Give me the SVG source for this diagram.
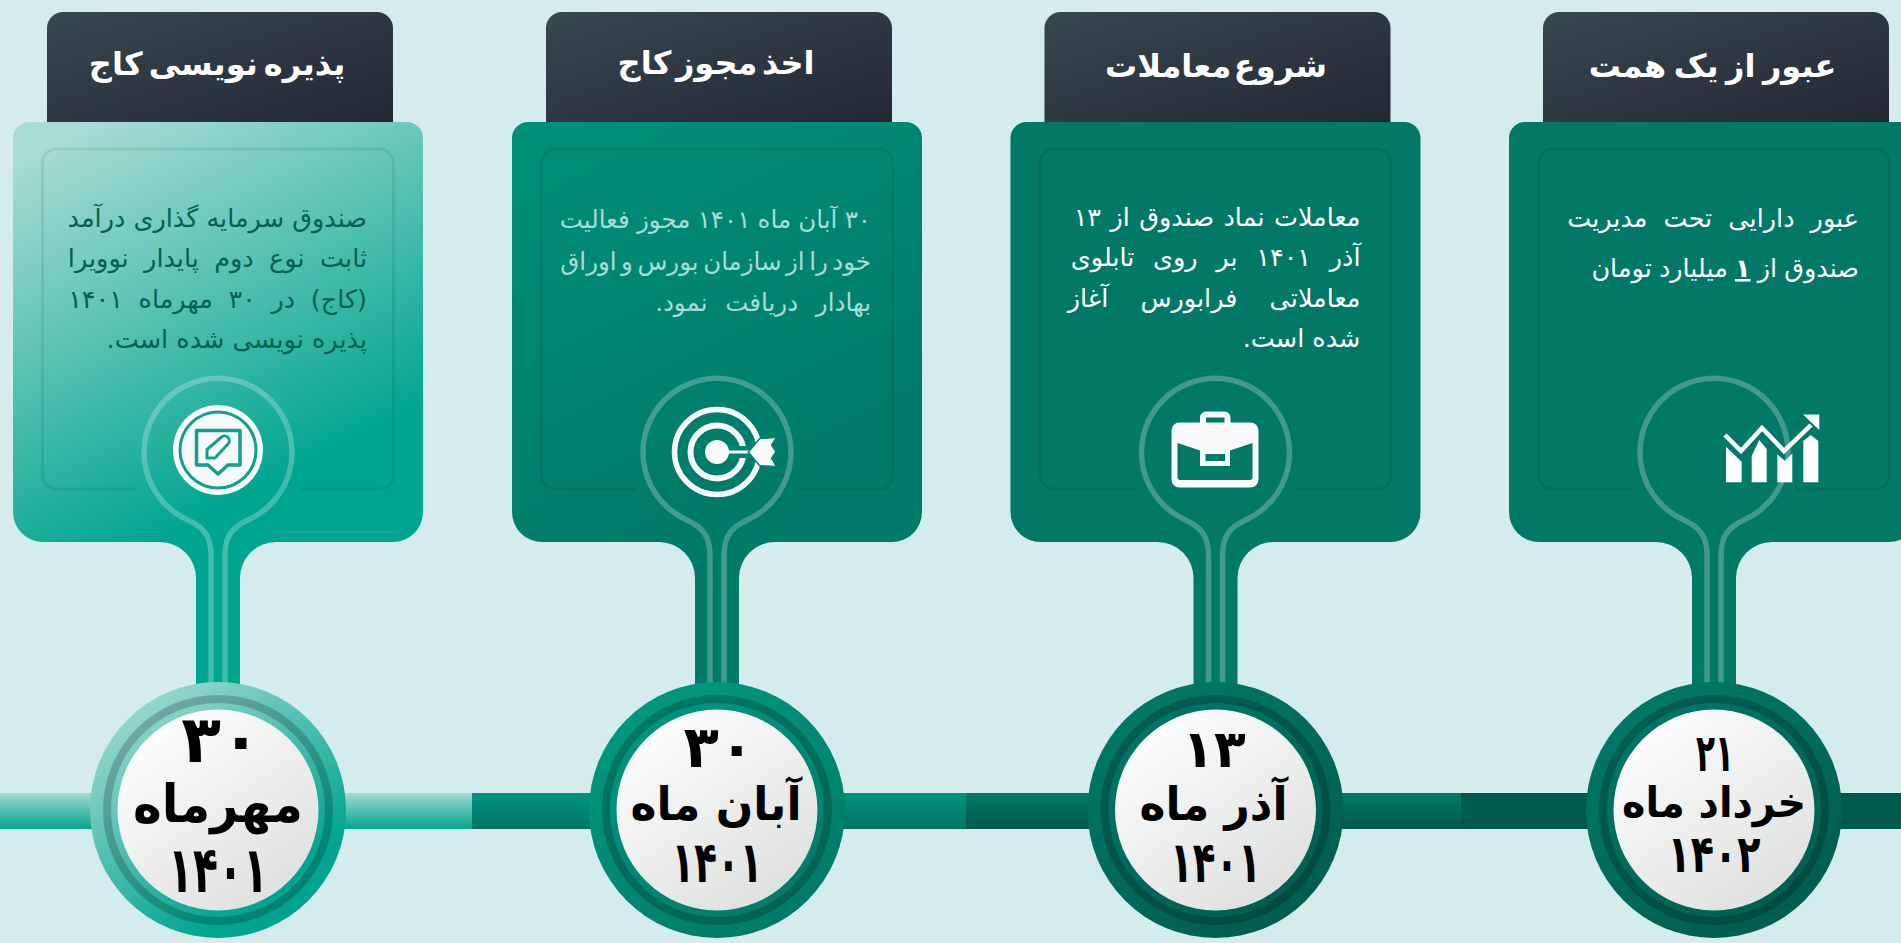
<svg xmlns="http://www.w3.org/2000/svg" width="1901" height="943" viewBox="0 0 1901 943">
<style>
text{font-family:"DejaVu Sans",sans-serif;direction:rtl}
.title{font-weight:700;fill:#fff;font-size:32px;text-anchor:middle}
.body{font-size:25.5px;text-anchor:start}
.date{font-weight:700;fill:#000;text-anchor:middle}
.frame{fill:none;stroke:#000;stroke-opacity:.08;stroke-width:3}
.ring{fill:none;stroke:#fff;stroke-opacity:.25;stroke-width:5.5}
.dark{fill:none;stroke:#000;stroke-opacity:.2;stroke-width:8}
.w{fill:#f7f9fb}
</style>
<defs>
<linearGradient id="tab" x1="0" y1="0" x2="1" y2="1"><stop offset="0" stop-color="#37484f"/><stop offset="1" stop-color="#232734"/></linearGradient>
<linearGradient id="face" x1=".15" y1="0" x2=".85" y2="1"><stop offset="0" stop-color="#fff"/><stop offset="1" stop-color="#dcdddd"/></linearGradient>
<linearGradient id="c1" gradientUnits="userSpaceOnUse" x1="120" y1="110" x2="300" y2="470"><stop offset="0" stop-color="#a8dcd4"/><stop offset="1" stop-color="#00a590"/></linearGradient>
<linearGradient id="c2" gradientUnits="userSpaceOnUse" x1="120" y1="110" x2="300" y2="470"><stop offset="0" stop-color="#008f79"/><stop offset="1" stop-color="#007a69"/></linearGradient>
<linearGradient id="d1" x1=".15" y1="0" x2=".85" y2="1"><stop offset="0" stop-color="#a8dcd4"/><stop offset=".8" stop-color="#00a590"/><stop offset="1" stop-color="#00a08c"/></linearGradient>
<linearGradient id="d2" x1=".15" y1="0" x2=".85" y2="1"><stop offset="0" stop-color="#009a82"/><stop offset="1" stop-color="#007766"/></linearGradient>
<linearGradient id="d3" x1=".15" y1="0" x2=".85" y2="1"><stop offset="0" stop-color="#007a6a"/><stop offset="1" stop-color="#005a4c"/></linearGradient>
<linearGradient id="b1" x1="0" y1="0" x2="0" y2="1"><stop offset="0" stop-color="#a5d9d1"/><stop offset="1" stop-color="#00a590"/></linearGradient>
<linearGradient id="b2" x1="0" y1="0" x2="0" y2="1"><stop offset="0" stop-color="#00957f"/><stop offset="1" stop-color="#007464"/></linearGradient>
<linearGradient id="b3" x1="0" y1="0" x2="0" y2="1"><stop offset="0" stop-color="#007a6a"/><stop offset="1" stop-color="#005a4c"/></linearGradient>
<path id="card" d="M29 122H407A16 16 0 0 1 423 138V512A30 30 0 0 1 393 542H276A36 36 0 0 0 240 578V700H196V578A36 36 0 0 0 160 542H43A30 30 0 0 1 13 512V138A16 16 0 0 1 29 122Z"/>
<path id="tabshape" d="M47 122V28A16 16 0 0 1 63 12H377A16 16 0 0 1 393 28V122Z"/>
<path id="frame" d="M137 489H56A14 14 0 0 1 42.500 475V163A14 14 0 0 1 56 149H380A14 14 0 0 1 393.500 163V475A14 14 0 0 1 380 489H300"/>
<path id="neck" d="M211 684V555C211 535 203 527 187 519.500A74 74 0 1 1 249 519.500C233 527 225 535 225 555V684"/>
<g id="disc">
<circle cx="218" cy="810" r="111" class="dark"/>
<circle cx="218" cy="810" r="100.500" fill="url(#face)"/>
</g>
</defs>
<rect width="1901" height="943" fill="#d4ecec"/>
<g id="connectors">
<rect x="0" y="793" width="472" height="36" fill="url(#b1)"/>
<rect x="472" y="793" width="494" height="36" fill="url(#b2)"/>
<rect x="966" y="793" width="495" height="36" fill="url(#b3)"/>
<rect x="1461" y="793" width="440" height="36" fill="#005a4c"/>
</g>
<g id="node-1">
<use href="#tabshape" fill="url(#tab)"/>
<use href="#card" fill="url(#c1)"/>
<use href="#frame" class="frame"/>
<text class="title" x="217" y="75" word-spacing="-5">پذیره نویسی کاج</text>
<g fill="#05604f">
<text class="body" x="367" y="227">صندوق سرمایه گذاری درآمد</text>
<text class="body" x="367" y="267" word-spacing="7.3">ثابت نوع دوم پایدار نوویرا</text>
<text class="body" x="367" y="308" word-spacing="7.5">(کاج) در ۳۰ مهرماه ۱۴۰۱</text>
<text class="body" x="367" y="348">پذیره نویسی شده است.</text>
</g>
<circle cx="218" cy="450" r="45" class="w"/>
<circle cx="218" cy="450" r="38" fill="none" stroke="#12a08d" stroke-width="3"/>
<path d="M196.500 430.500H240V465H228L218 474L208 465H196.500Z" fill="none" stroke="#12a08d" stroke-width="3.500" stroke-linejoin="round"/>
<path d="M207 458V449.500L221 437.500A4.500 4.500 0 0 1 228 444L215 458Z" fill="none" stroke="#12a08d" stroke-width="3" stroke-linejoin="round"/>
<use href="#neck" class="ring"/>
<circle cx="218" cy="810" r="128" fill="url(#d1)"/>
<use href="#disc"/>
<text class="date" x="221" y="762" font-size="65">۳۰</text>
<text class="date" x="218" y="822" font-size="52" textLength="170" lengthAdjust="spacingAndGlyphs">مهرماه</text>
<text class="date" x="218" y="892" font-size="64" textLength="100" lengthAdjust="spacingAndGlyphs">۱۴۰۱</text>
</g>
<g id="node-2" transform="translate(499 0)">
<use href="#tabshape" fill="url(#tab)"/>
<use href="#card" fill="url(#c2)"/>
<use href="#frame" class="frame"/>
<text class="title" x="217" y="74" word-spacing="-6.500">اخذ مجوز کاج</text>
<text class="body" style="font-size:24.5px" fill="#a8dcd4" x="372" y="228" word-spacing="-.5">۳۰ آبان ماه ۱۴۰۱ مجوز فعالیت</text>
<text class="body" style="font-size:24.5px" fill="#a8dcd4" x="372" y="270" word-spacing="-3.300">خود را از سازمان بورس و اوراق</text>
<text class="body" style="font-size:24.5px" fill="#a8dcd4" x="372" y="311" word-spacing="10">بهادار دریافت نمود.</text>
<circle cx="218" cy="452" r="42.500" fill="none" stroke="#f7f9fb" stroke-width="5.500"/>
<circle cx="218" cy="452" r="26.500" fill="none" stroke="#f7f9fb" stroke-width="6"/>
<line x1="218" y1="452" x2="252" y2="452" stroke="#018572" stroke-width="12"/>
<circle cx="218" cy="452" r="12" class="w"/>
<line x1="218" y1="452" x2="252" y2="452" stroke="#f7f9fb" stroke-width="3"/>
<path d="M250.300 452.300L261 439.300L276 438.300L271.700 445L276 451.700L271.700 458.300L276 465.700L261 465Z" class="w" stroke="#018572" stroke-width="3" paint-order="stroke"/>
<use href="#neck" class="ring"/>
<circle cx="218" cy="810" r="128" fill="url(#d2)"/>
<use href="#disc"/>
<text class="date" x="220" y="767" font-size="58">۳۰</text>
<text class="date" x="217" y="820" font-size="46" textLength="171" lengthAdjust="spacingAndGlyphs">آبان ماه</text>
<text class="date" x="218" y="882" font-size="57" textLength="91" lengthAdjust="spacingAndGlyphs">۱۴۰۱</text>
</g>
<g id="node-3" transform="translate(997.500 0)">
<use href="#tabshape" fill="url(#tab)"/>
<use href="#card" fill="#027866"/>
<use href="#frame" class="frame"/>
<text class="title" x="218.500" y="77" word-spacing="-8.500">شروع معاملات</text>
<text class="body" fill="#fff" x="363" y="226" word-spacing="1.300">معاملات نماد صندوق از ۱۳</text>
<text class="body" fill="#fff" x="363" y="266" word-spacing="10.600">آذر ۱۴۰۱ بر روی تابلوی</text>
<text class="body" fill="#fff" x="363" y="307" word-spacing="24">معاملاتی فرابورس آغاز</text>
<text class="body" fill="#fff" x="363" y="347">شده است.</text>
<path fill-rule="evenodd" class="w" d="M182 422.500H253A8 8 0 0 1 261 430.500V479.500A8 8 0 0 1 253 487.500H182A8 8 0 0 1 174 479.500V430.500A8 8 0 0 1 182 422.500ZM180 443L202.500 450.500V466H232.500V450.500L255 443V477A3 3 0 0 1 252 480H183A3 3 0 0 1 180 477ZM208 454V461H227.500V454Z"/>
<path d="M205.500 423V417.500A3 3 0 0 1 208.500 414.500H227A3 3 0 0 1 230 417.500V423" fill="none" stroke="#f7f9fb" stroke-width="6"/>
<use href="#neck" class="ring"/>
<circle cx="218" cy="810" r="128" fill="url(#d3)"/>
<use href="#disc"/>
<text class="date" x="216.500" y="767" font-size="52">۱۳</text>
<text class="date" x="216" y="820" font-size="46" textLength="148" lengthAdjust="spacingAndGlyphs">آذر ماه</text>
<text class="date" x="218" y="882" font-size="57" textLength="91" lengthAdjust="spacingAndGlyphs">۱۴۰۱</text>
</g>
<g id="node-4" transform="translate(1496 0)">
<use href="#tabshape" fill="url(#tab)"/>
<use href="#card" fill="#027866"/>
<use href="#frame" class="frame"/>
<text class="title" x="216.500" y="77" word-spacing="-3.600">عبور از یک همت</text>
<text class="body" fill="#fff" x="363" y="227" word-spacing="8">عبور دارایی تحت مدیریت</text>
<text class="body" fill="#fff" x="363" y="277" word-spacing="-1">صندوق از <tspan font-weight="700" text-decoration="underline">۱</tspan> میلیارد تومان</text>
<path fill="#fff" d="M230 446.700L245.700 461.700V482.300H230ZM255.700 456L263.300 440L270.700 449V482.300H255.700ZM281.300 454.300L289 461L296.300 453.300V482.300H281.300ZM307.300 441L314.700 435L322.300 441V482.300H307.300Z"/>
<path fill="none" stroke="#fff" stroke-width="4.500" d="M229 435L245 451L266 428L288 451L315 425"/>
<path fill="#fff" d="M307 414.500H323.300V430Z"/>
<use href="#neck" class="ring"/>
<circle cx="218" cy="810" r="128" fill="url(#d3)"/>
<use href="#disc"/>
<text class="date" x="219" y="771" font-size="52" textLength="38" lengthAdjust="spacingAndGlyphs">۲۱</text>
<text class="date" x="218" y="817" font-size="42" textLength="184" lengthAdjust="spacingAndGlyphs">خرداد ماه</text>
<text class="date" x="218" y="872" font-size="52" textLength="93" lengthAdjust="spacingAndGlyphs">۱۴۰۲</text>
</g>
</svg>
